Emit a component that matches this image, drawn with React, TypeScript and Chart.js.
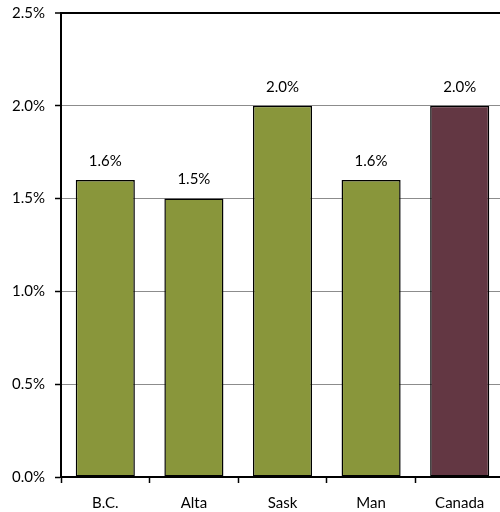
import React, { useEffect, useRef } from "react";
import { Chart, registerables } from "chart.js";

Chart.register(...registerables);

const categories = ["B.C.", "Alta", "Sask", "Man", "Canada"];
const values = [1.6, 1.5, 2.0, 1.6, 2.0];
const barColors = ["#89963B", "#89963B", "#89963B", "#89963B", "#633743"];
const yTicks = [0, 0.5, 1.0, 1.5, 2.0, 2.5];

const FONT = "Lato, 'Open Sans', sans-serif";

const labelPlugin = {
  id: "barLabels",
  afterDatasetsDraw(chart: any) {
    const ctx = chart.ctx;
    const meta = chart.getDatasetMeta(0);
    ctx.save();
    ctx.fillStyle = "#000";
    ctx.font = `15px ${FONT}`;
    ctx.textAlign = "center";
    ctx.textBaseline = "middle";
    meta.data.forEach((el: any, i: number) => {
      ctx.fillText(values[i].toFixed(1) + "%", el.x, el.y - 19);
    });
    ctx.restore();
  },
};

export default function App() {
  const ref = useRef<HTMLCanvasElement>(null);
  useEffect(() => {
    if (!ref.current) return;
    const chart = new Chart(ref.current, {
      type: "bar",
      data: {
        labels: categories,
        datasets: [
          {
            data: values,
            backgroundColor: barColors,
            borderColor: "#000",
            borderWidth: 1.5,
            borderSkipped: false,
            categoryPercentage: 1,
            barPercentage: 0.667,
          },
        ],
      },
      options: {
        responsive: false,
        animation: false,
        devicePixelRatio: 1,
        layout: { padding: { top: 13, right: 6, left: 0, bottom: 0 } },
        plugins: {
          legend: { display: false },
          tooltip: { enabled: false },
          title: { display: false },
        },
        scales: {
          x: {
            afterFit: (s: any) => {
              s.height = 35;
              s.paddingLeft = 0;
              s.paddingRight = 0;
            },
            border: { display: true, color: "#000", width: 2 },
            grid: {
              offset: true,
              drawOnChartArea: false,
              drawTicks: true,
              tickLength: 6,
              tickColor: "#000",
              tickWidth: 1.5,
            },
            ticks: {
              color: "#000",
              padding: 11,
              font: { family: FONT, size: 15 },
            },
          },
          y: {
            min: 0,
            max: 2.5,
            afterFit: (s: any) => {
              s.width = 61;
              s.paddingTop = 0;
              s.paddingBottom = 0;
            },
            afterBuildTicks: (s: any) => {
              s.ticks = yTicks.map((v) => ({ value: v }));
            },
            border: { display: true, color: "#000", width: 2 },
            grid: {
              color: (c: any) => (c.tick && c.tick.value === 2.5 ? "#000" : "#8c8c8c"),
              lineWidth: (c: any) => (c.tick && c.tick.value === 2.5 ? 2 : 1),
              tickLength: 6,
              tickColor: "#000",
              tickWidth: 1.5,
            },
            ticks: {
              color: "#000",
              padding: 10,
              font: { family: FONT, size: 15 },
              callback: (v: any) => Number(v).toFixed(1) + "%",
            },
          },
        },
      },
      plugins: [labelPlugin],
    });
    return () => chart.destroy();
  }, []);
  return (
    <div
      style={{
        position: "fixed",
        top: 0,
        left: 0,
        width: 500,
        height: 512,
        overflow: "hidden",
        background: "#fff",
      }}
    >
      <canvas ref={ref} width={510} height={512} style={{ display: "block" }} />
    </div>
  );
}
